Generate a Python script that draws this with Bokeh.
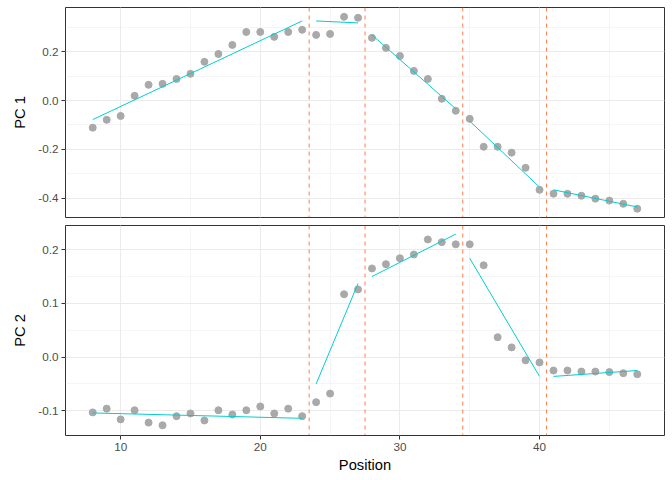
from bokeh.plotting import figure
from bokeh.layouts import column
from bokeh.models import Range1d, SingleIntervalTicker, Span, PrintfTickFormatter
from bokeh.embed import file_html
from bokeh.resources import INLINE

# ---- data ----
position = list(range(8, 48))
pc1 = [-0.111, -0.079, -0.063, 0.019, 0.064, 0.068, 0.088, 0.109, 0.158, 0.190,
       0.227, 0.280, 0.280, 0.260, 0.280, 0.289, 0.268, 0.272, 0.342, 0.338,
       0.256, 0.215, 0.182, 0.121, 0.088, 0.007, -0.042, -0.075, -0.189, -0.189,
       -0.213, -0.275, -0.365, -0.381, -0.381, -0.389, -0.401, -0.409, -0.422, -0.442]
pc2 = [-0.103, -0.096, -0.116, -0.099, -0.122, -0.127, -0.110, -0.105, -0.118, -0.099,
       -0.107, -0.099, -0.092, -0.105, -0.096, -0.110, -0.084, -0.068, 0.117, 0.126,
       0.165, 0.173, 0.184, 0.191, 0.219, 0.214, 0.210, 0.210, 0.171, 0.037,
       0.018, -0.006, -0.010, -0.025, -0.025, -0.027, -0.027, -0.028, -0.030, -0.032]
breakpoints = [23.5, 27.5, 34.5, 40.5]
seg_start = [8, 24, 28, 35, 41]
seg_end = [23, 27, 34, 40, 47]
fit1_start = [-0.078, 0.325, 0.268, -0.084, -0.365]
fit1_end = [0.325, 0.317, -0.034, -0.354, -0.435]
fit2_start = [-0.104, -0.050, 0.150, 0.184, -0.036]
fit2_end = [-0.114, 0.137, 0.229, -0.036, -0.025]

FONT = "Liberation Sans"
POINT = "#A9A9A9"
FIT = "#00CED1"
VLINE = "#FF7F50"

x_range = Range1d(6.05, 48.95)


def make_panel(height, yr, yinterval, ylabel, vals, f0, f1, show_x, mb_top, mb_bottom):
    p = figure(width=665, height=height, x_range=x_range, y_range=yr,
               output_backend="svg", toolbar_location=None,
               min_border_left=65, min_border_right=1,
               min_border_top=mb_top, min_border_bottom=mb_bottom)
    p.background_fill_color = "white"
    p.border_fill_color = "white"
    p.outline_line_color = "#333333"
    p.outline_line_width = 1

    xt = SingleIntervalTicker(interval=10, num_minor_ticks=2)
    yt = SingleIntervalTicker(interval=yinterval, num_minor_ticks=2)
    p.xaxis.ticker = xt
    p.yaxis.ticker = yt
    p.xgrid.ticker = xt
    p.ygrid.ticker = yt
    p.yaxis.formatter = PrintfTickFormatter(format="%.1f")
    for g in (p.xgrid, p.ygrid):
        g.grid_line_color = "#EBEBEB"
        g.grid_line_width = 1
        g.minor_grid_line_color = "#EBEBEB"
        g.minor_grid_line_width = 0.5

    for ax in (p.xaxis, p.yaxis):
        ax.axis_line_color = None
        ax.minor_tick_line_color = None
        ax.major_tick_line_color = "#333333"
        ax.major_tick_in = 0
        ax.major_tick_out = 4
        ax.major_label_text_font = FONT
        ax.major_label_text_font_size = "11.7px"
        ax.major_label_text_color = "#4D4D4D"
        ax.major_label_standoff = 3
        ax.axis_label_text_font = FONT
        ax.axis_label_text_font_size = "14.7px"
        ax.axis_label_text_font_style = "normal"
        ax.axis_label_text_color = "black"
    p.yaxis.axis_label = ylabel
    p.yaxis.axis_label_standoff = 7
    if show_x:
        p.xaxis.axis_label = "Position"
        p.xaxis.axis_label_standoff = 3
    else:
        p.xaxis.visible = False

    p.scatter(position, vals, size=7, fill_color=POINT, line_color=POINT)
    p.segment(x0=seg_start, y0=f0, x1=seg_end, y1=f1, line_color=FIT, line_width=1)
    for b in breakpoints:
        p.add_layout(Span(location=b, dimension="height", line_color=VLINE,
                          line_width=1, line_dash="4 4"))
    return p


p1 = make_panel(221, Range1d(-0.478, 0.380), 0.2, "PC 1", pc1, fit1_start, fit1_end,
                False, 7, 4)
p2 = make_panel(259, Range1d(-0.146, 0.245), 0.1, "PC 2", pc2, fit2_start, fit2_end,
                True, 4, 45)

layout = column(p1, p2, spacing=0)
open("out.html", "w").write(file_html(layout, INLINE))
